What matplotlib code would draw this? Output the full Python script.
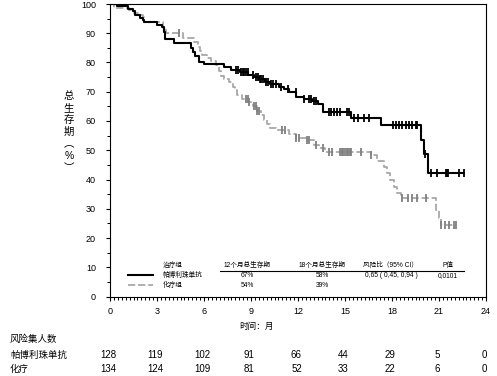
import numpy as np
import matplotlib.pyplot as plt
import matplotlib.transforms as mtransforms
from matplotlib.ticker import MultipleLocator

plt.rcParams['font.family'] = ['Liberation Sans', 'Noto Sans CJK SC', 'DejaVu Sans']

# step data (months, % alive after the step)
pembro_t = [0, 0.42, 1.12, 1.44, 1.6, 1.9, 2.08, 2.19, 2.97, 3.32, 3.45, 3.53, 4.1,
            5.17, 5.3, 5.45, 5.66, 6.02, 7.29, 7.72, 8.3, 8.8, 9.2, 9.5, 9.9, 10.2,
            10.8, 11.1, 11.4, 11.9, 12.4, 12.9, 13.25, 13.6, 15.4, 17.3, 19.85,
            20.06, 20.3]
pembro_s = [100, 99.2, 98.4, 97.6, 96.1, 95.3, 94.5, 93.7, 92.9, 92.1, 90.5, 88.2, 86.6,
            85.0, 83.5, 82.2, 80.3, 79.5, 78.6, 77.6, 76.6, 75.8, 75.0, 74.2, 73.4, 72.6,
            71.7, 70.8, 70.0, 68.3, 67.5, 67.0, 65.8, 63.2, 61.0, 58.6, 53.5,
            48.6, 42.3]
pembro_end = 22.6
pembro_cens = [8.06, 8.14, 8.36, 8.5, 8.57, 8.67, 8.78, 9.1, 9.31, 9.45, 9.55, 9.66,
               9.74, 9.98, 10.06, 10.3, 10.38, 10.6, 10.9, 11.33, 11.86, 12.4, 12.72,
               12.8, 13.04, 13.15, 14.0, 14.1, 14.3, 14.5, 14.7, 15.15, 15.25, 15.6,
               15.8, 16.2, 16.55, 18.04, 18.25, 18.46, 18.67, 18.9, 19.1, 19.3, 19.5,
               19.62, 20.1, 20.5, 20.87, 21.45, 21.5, 21.55, 22.3, 22.6]

chemo_t = [0, 0.27, 1.23, 1.55, 1.87, 2.08, 2.2, 3.36, 3.6, 4.63, 5.38, 5.6, 5.75,
           5.9, 6.2, 6.45, 6.77, 6.97, 7.1, 7.3, 7.6, 7.83, 7.95, 8.13, 8.4, 8.8,
           9.1, 9.4, 9.63, 9.84, 10.05, 10.2, 10.6, 11.45, 11.86, 12.5, 13.05,
           13.37, 13.7, 16.65, 17.07, 17.5, 17.7, 17.9, 18.15, 18.35, 18.57, 20.8,
           21.0, 21.1]
chemo_s = [100, 98.5, 97.8, 97.0, 96.3, 95.5, 93.8, 91.7, 90.0, 88.5, 87.0, 85.2, 84.0,
           82.6, 81.5, 80.5, 79.1, 77.2, 75.5, 74.3, 73.2, 71.7, 70.5, 68.8, 67.6, 66.5,
           65.0, 63.5, 62.2, 60.5, 59.0, 57.5, 56.8, 55.5, 54.2, 53.5, 51.9,
           50.8, 49.5, 48.3, 46.2, 44.4, 42.2, 39.9, 37.6, 35.4, 33.6, 29.6,
           26.8, 24.4]
chemo_end = 22.1
chemo_cens = [4.4, 8.68, 8.78, 8.89, 9.2, 9.3, 9.4, 9.5, 11.0, 11.2, 11.86, 12.08,
              12.6, 12.72, 13.15, 13.6, 14.0, 14.2, 14.7, 14.8, 14.9, 15.0, 15.1,
              15.2, 15.3, 15.4, 16.0, 16.65, 18.67, 19.0, 19.3, 19.6, 20.17,
              21.1, 21.4, 21.65, 21.97, 22.1]

months = [0, 3, 6, 9, 12, 15, 18, 21, 24]
risk_pembro = [128, 119, 102, 91, 66, 44, 29, 5, 0]
risk_chemo = [134, 124, 109, 81, 52, 33, 22, 6, 0]

legend_head = ['治疗组', '12个月总生存期', '18个月总生存期', '风险比（95% CI）', 'P值']
legend_pembro = ['帕博利珠单抗', '67%', '58%', '0,65 ( 0,45, 0,94 )', '0,0101']
legend_chemo = ['化疗组', '54%', '39%', '', '']

BLACK = '#000000'
GRAY_LINE = '#a8a8a8'
GRAY_MARK = '#808080'


def step_value(t, s, x):
    i = np.searchsorted(t, x, side='right') - 1
    return np.asarray(s)[i]


fig = plt.figure(figsize=(4.97, 3.76), dpi=100)
ax = fig.add_axes([110 / 497, 1 - 296.5 / 376, 376 / 497, 292.5 / 376])

# curves
ax.step(pembro_t + [pembro_end], pembro_s + [pembro_s[-1]], where='post',
        color=BLACK, lw=1.5, zorder=3)
ax.plot(pembro_cens, step_value(pembro_t, pembro_s, pembro_cens), ls='none',
        marker='|', ms=5.5, mew=1.3, color=BLACK, zorder=4)

ax.step(chemo_t + [chemo_end], chemo_s + [chemo_s[-1]], where='post',
        color=GRAY_LINE, lw=1.3, dashes=(4, 1.6), zorder=2)
ax.plot(chemo_cens, step_value(chemo_t, chemo_s, chemo_cens), ls='none',
        marker='|', ms=5.5, mew=1.3, color=GRAY_MARK, zorder=2)

ax.set_xlim(0, 24)
ax.set_ylim(0, 100)
ax.xaxis.set_major_locator(MultipleLocator(3))
ax.xaxis.set_minor_locator(MultipleLocator(0.25))
ax.yaxis.set_major_locator(MultipleLocator(10))
ax.yaxis.set_minor_locator(MultipleLocator(5))
ax.tick_params(axis='both', which='major', direction='out', length=3.2, width=0.8,
               labelsize=6.5)
ax.tick_params(axis='x', which='major', pad=4)
ax.tick_params(axis='y', which='major', pad=7)
ax.tick_params(axis='both', which='minor', direction='out', length=2.4, width=0.7)
for sp in ax.spines.values():
    sp.set_linewidth(0.8)

# y label, stacked characters
fig.text(69 / 497, 1 - 132 / 376, '总\n生\n存\n期\n︵\n%\n︶', ha='center', va='center',
         fontsize=7.5, linespacing=1.25)

# legend table inside the plot
col_x = [3.38, 8.74, 13.53, 17.93, 21.57]
head_y, row1_y, row2_y = 10.5, 7.3, 3.9
for i, txt in enumerate(legend_head):
    ax.text(col_x[i], head_y, txt, fontsize=4.8, ha='left' if i == 0 else 'center',
            va='center')
for i, txt in enumerate(legend_pembro):
    ax.text(col_x[i], row1_y, txt, fontsize=4.8, ha='left' if i == 0 else 'center',
            va='center')
for i, txt in enumerate(legend_chemo):
    ax.text(col_x[i], row2_y, txt, fontsize=4.8, ha='left' if i == 0 else 'center',
            va='center')
ax.plot([7.0, 22.6], [8.7, 8.7], color=BLACK, lw=0.8)
ax.plot([1.15, 2.74], [row1_y, row1_y], color=BLACK, lw=1.5)
ax.plot([1.15, 2.74], [row2_y, row2_y], color=GRAY_LINE, lw=1.3, dashes=(4, 1.6))

# x label and number at risk
trans = mtransforms.blended_transform_factory(ax.transData, fig.transFigure)
fig.text(257 / 497, 1 - 326 / 376, '时间：月', ha='center', va='center', fontsize=6.2)
fig.text(10 / 497, 1 - 339 / 376, '风险集人数', ha='left', va='center', fontsize=6.8)
fig.text(10 / 497, 1 - 355 / 376, '帕博利珠单抗', ha='left', va='center', fontsize=6.8)
fig.text(10 / 497, 1 - 369 / 376, '化疗', ha='left', va='center', fontsize=6.8)
for m, a, b in zip(months, risk_pembro, risk_chemo):
    ax.text(m - 0.1, 1 - 355 / 376, str(a), transform=trans, ha='center', va='center',
            fontsize=7)
    ax.text(m - 0.1, 1 - 369 / 376, str(b), transform=trans, ha='center', va='center',
            fontsize=7)

fig.savefig('out.png', dpi=100)
